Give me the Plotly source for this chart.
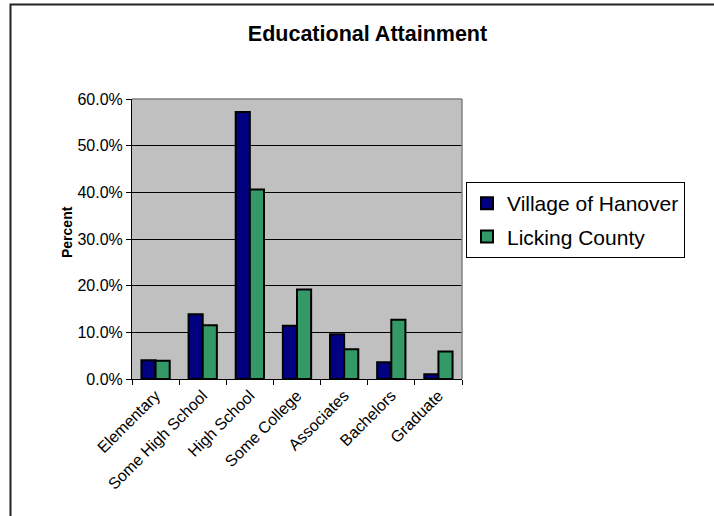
import plotly.graph_objects as go

categories = ["Elementary", "Some High School", "High School", "Some College",
              "Associates", "Bachelors", "Graduate"]
hanover = [4.0, 13.9, 57.2, 11.4, 9.6, 3.6, 1.0]
licking = [3.9, 11.5, 40.6, 19.2, 6.4, 12.7, 5.9]
y_ticks = [0, 10, 20, 30, 40, 50, 60]
y_tick_labels = ["0.0%", "10.0%", "20.0%", "30.0%", "40.0%", "50.0%", "60.0%"]

FONT = "Liberation Sans, Arial, sans-serif"
W, H = 714, 516
L, R, T, B = 132, 462, 99, 379

fig = go.Figure()
fig.add_trace(go.Bar(x=categories, y=hanover, name="Village of Hanover", legendgroup="a",
                     marker=dict(color="#000080", line=dict(color="#000000", width=2))))
fig.add_trace(go.Bar(x=categories, y=licking, name="Licking County", legendgroup="b",
                     marker=dict(color="#339966", line=dict(color="#000000", width=2))))

def px_x(p):
    return (p - L) / (R - L)

def px_y(p):
    return (B - p) / (B - T)

fig.update_layout(
    width=W, height=H,
    margin=dict(l=L, r=W - R, t=T, b=H - B, autoexpand=False),
    paper_bgcolor="#ffffff",
    plot_bgcolor="#C0C0C0",
    barmode="group", bargap=0.4, bargroupgap=0,
    font=dict(family=FONT, color="#000000", size=16),
    title=dict(text="<b>Educational Attainment</b>", x=367.5 / W, xanchor="center",
               y=1 - 33 / H, yanchor="middle", yref="container",
               font=dict(family=FONT, size=21.5, color="#000000")),
    showlegend=True,
    legend=dict(x=px_x(466), xanchor="left", y=px_y(182), yanchor="top",
                bgcolor="#ffffff", bordercolor="#000000", borderwidth=1,
                font=dict(family=FONT, size=21, color="#000000"),
                traceorder="grouped", tracegroupgap=3, itemwidth=30),
    xaxis=dict(type="category", showgrid=False, showline=True, linecolor="#000000",
               linewidth=1, ticks="outside", tickson="boundaries", ticklen=5,
               tickcolor="#000000", tickangle=-45, tickfont=dict(size=16),
               zeroline=False),
    yaxis=dict(range=[0, 60], tickvals=y_ticks, ticktext=y_tick_labels,
               showgrid=True, gridcolor="#000000", gridwidth=1,
               showline=True, linecolor="#000000", linewidth=1,
               ticks="outside", ticklen=5, tickcolor="#000000",
               tickfont=dict(size=16), zeroline=False),
    annotations=[dict(text="<b>Percent</b>", textangle=-90, x=px_x(57), y=px_y(232),
                      xref="paper", yref="paper", showarrow=False,
                      font=dict(family=FONT, size=14, color="#000000"))],
    shapes=[
        dict(type="line", xref="paper", yref="paper", x0=0, x1=1, y0=1, y1=1,
             line=dict(color="#808080", width=1.5), layer="above"),
        dict(type="line", xref="paper", yref="paper", x0=1, x1=1, y0=0, y1=1,
             line=dict(color="#808080", width=1.5), layer="above"),
        dict(type="rect", xref="paper", yref="paper",
             x0=px_x(10.5), x1=px_x(730), y0=px_y(530), y1=px_y(4.5),
             line=dict(color="#222222", width=2), layer="above"),
    ],
)

fig.write_html("out.html", config={"displayModeBar": False},
               post_script="document.body.style.margin='0';document.body.style.padding='0';")
